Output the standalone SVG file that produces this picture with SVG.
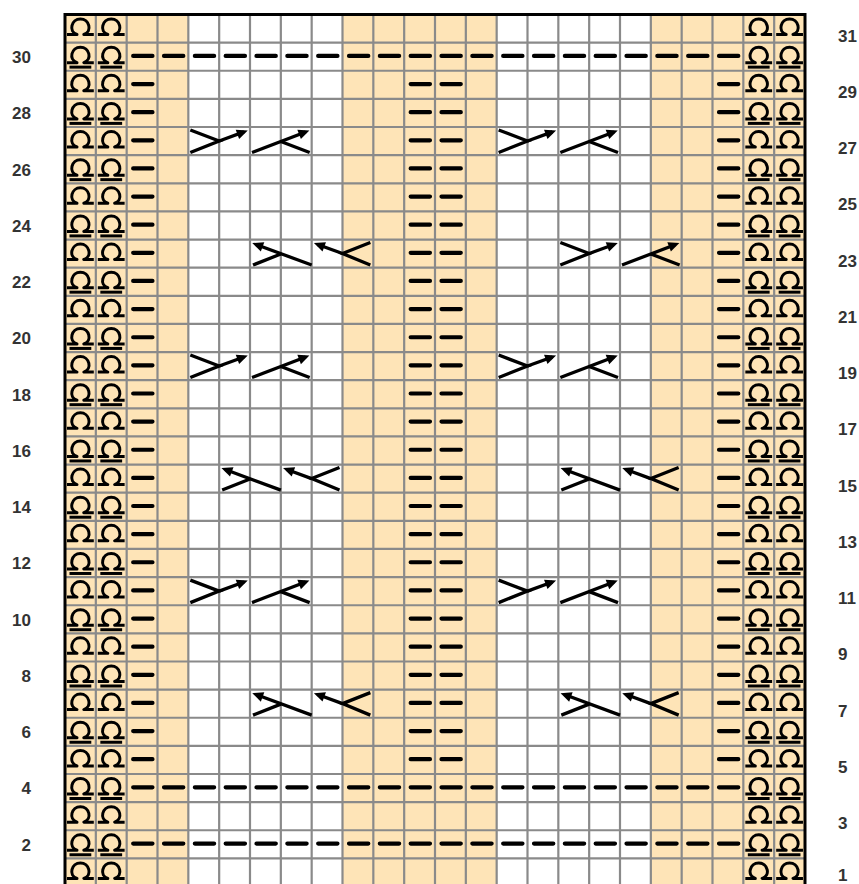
<svg xmlns="http://www.w3.org/2000/svg" xmlns:xlink="http://www.w3.org/1999/xlink" width="859" height="884" viewBox="0 0 859 884">
<style>
.tan{fill:#fee4b7}
.grid{stroke:#8a8a8a;stroke-width:2.2;fill:none}
.border{stroke:#000;stroke-width:3;fill:none}
.sym{stroke:#000;stroke-width:3;fill:none;stroke-linejoin:round}
.dash{stroke:#000;stroke-width:4.2;stroke-linecap:round;fill:none}
.cab{stroke:#000;stroke-width:3.3;fill:none;stroke-linejoin:miter}
.arr{marker-end:url(#ah)}
.lbl{font-family:"Liberation Sans",Arial,sans-serif;font-weight:bold;font-size:17px;fill:#333}
.l{text-anchor:end}
.r{text-anchor:start}
</style>
<defs>
<marker id="ah" markerUnits="userSpaceOnUse" markerWidth="16" markerHeight="14" refX="7" refY="5.5" orient="auto" overflow="visible">
<path d="M0,0.5 L11,5.5 L0,10.5 z" fill="#000"/>
</marker>
<g id="tw"><path class="sym" d="M2,20 H12 C3,17 6.5,4.5 15.4,4.5 C24.3,4.5 27.8,17 18.8,20 H28.8"/></g>
<g id="tw2"><use href="#tw"/><path class="sym" d="M4.5,24.5 H26.3"/></g>
<g id="Lo"><use href="#tw" x="65"/><use href="#tw" x="95.83"/><use href="#tw" x="743.33"/><use href="#tw" x="774.17"/></g>
<g id="Le"><use href="#tw2" x="65"/><use href="#tw2" x="95.83"/><use href="#tw2" x="743.33"/><use href="#tw2" x="774.17"/></g>
<g id="mid"><path class="dash" d="M133.17,13.3 H152.47 M410.67,13.3 H429.97 M441.5,13.3 H460.8 M719,13.3 H738.3"/></g>
<g id="full"><path class="dash" d="M133.17,13.3 H738.3" stroke-dasharray="19.3 11.533"/></g>
<g id="A">
<polyline class="cab" points="2,3 30.83,14 2,25.5"/>
<path class="cab arr" d="M30.83,14 L55.67,4.9"/>
<path class="cab arr" d="M63.67,25.5 L117.33,4.9"/>
<path class="cab" d="M92.5,14.5 L121.33,25.5"/>
</g>
<g id="B">
<path class="cab arr" d="M61.67,25.5 L6,4.9"/>
<path class="cab" d="M3,25.5 L30.83,14.5"/>
<path class="cab arr" d="M92.5,14 L67.67,4.9"/>
<polyline class="cab" points="120.33,3 92.5,14 120.33,25.5"/>
</g>
</defs>

<g id="background">
<rect x="0" y="0" width="859" height="884" fill="#fff"/>
<rect class="tan" x="65" y="14.5" width="123.33" height="870"/>
<rect class="tan" x="342.5" y="14.5" width="154.17" height="870"/>
<rect class="tan" x="650.83" y="14.5" width="154.17" height="870"/>
</g>

<g id="grid">
<path class="grid" d="M95.83 14.5V884M126.67 14.5V884M157.5 14.5V884M188.33 14.5V884M219.17 14.5V884M250 14.5V884M280.83 14.5V884M311.67 14.5V884M342.5 14.5V884M373.33 14.5V884M404.17 14.5V884M435 14.5V884M465.83 14.5V884M496.67 14.5V884M527.5 14.5V884M558.33 14.5V884M589.17 14.5V884M620 14.5V884M650.83 14.5V884M681.67 14.5V884M712.5 14.5V884M743.33 14.5V884M774.17 14.5V884"/>
<path class="grid" d="M65 42.63H805M65 70.76H805M65 98.89H805M65 127.02H805M65 155.15H805M65 183.28H805M65 211.41H805M65 239.54H805M65 267.67H805M65 295.8H805M65 323.93H805M65 352.06H805M65 380.19H805M65 408.32H805M65 436.45H805M65 464.58H805M65 492.71H805M65 520.84H805M65 548.97H805M65 577.1H805M65 605.23H805M65 633.36H805M65 661.49H805M65 689.62H805M65 717.75H805M65 745.88H805M65 774.01H805M65 802.14H805M65 830.27H805M65 858.4H805"/>
<path class="border" d="M65 884V14.5H805V884"/>
</g>

<g id="twisted-stitches">
<use href="#Lo" y="14.5"/>
<use href="#Le" y="42.63"/>
<use href="#Lo" y="70.76"/>
<use href="#Le" y="98.89"/>
<use href="#Lo" y="127.02"/>
<use href="#Le" y="155.15"/>
<use href="#Lo" y="183.28"/>
<use href="#Le" y="211.41"/>
<use href="#Lo" y="239.54"/>
<use href="#Le" y="267.67"/>
<use href="#Lo" y="295.8"/>
<use href="#Le" y="323.93"/>
<use href="#Lo" y="352.06"/>
<use href="#Le" y="380.19"/>
<use href="#Lo" y="408.32"/>
<use href="#Le" y="436.45"/>
<use href="#Lo" y="464.58"/>
<use href="#Le" y="492.71"/>
<use href="#Lo" y="520.84"/>
<use href="#Le" y="548.97"/>
<use href="#Lo" y="577.1"/>
<use href="#Le" y="605.23"/>
<use href="#Lo" y="633.36"/>
<use href="#Le" y="661.49"/>
<use href="#Lo" y="689.62"/>
<use href="#Le" y="717.75"/>
<use href="#Lo" y="745.88"/>
<use href="#Le" y="774.01"/>
<use href="#Lo" y="802.14"/>
<use href="#Le" y="830.27"/>
<use href="#Lo" y="858.4"/>
</g>

<g id="purls">
<use href="#full" y="42.63"/>
<use href="#mid" y="70.76"/>
<use href="#mid" y="98.89"/>
<use href="#mid" y="127.02"/>
<use href="#mid" y="155.15"/>
<use href="#mid" y="183.28"/>
<use href="#mid" y="211.41"/>
<use href="#mid" y="239.54"/>
<use href="#mid" y="267.67"/>
<use href="#mid" y="295.8"/>
<use href="#mid" y="323.93"/>
<use href="#mid" y="352.06"/>
<use href="#mid" y="380.19"/>
<use href="#mid" y="408.32"/>
<use href="#mid" y="436.45"/>
<use href="#mid" y="464.58"/>
<use href="#mid" y="492.71"/>
<use href="#mid" y="520.84"/>
<use href="#mid" y="548.97"/>
<use href="#mid" y="577.1"/>
<use href="#mid" y="605.23"/>
<use href="#mid" y="633.36"/>
<use href="#mid" y="661.49"/>
<use href="#mid" y="689.62"/>
<use href="#mid" y="717.75"/>
<use href="#mid" y="745.88"/>
<use href="#full" y="774.01"/>
<use href="#full" y="830.27"/>
</g>

<g id="cables">
<use href="#A" x="188.33" y="127.02"/>
<use href="#A" x="496.67" y="127.02"/>
<use href="#B" x="250" y="239.54"/>
<use href="#A" x="558.33" y="239.54"/>
<use href="#A" x="188.33" y="352.06"/>
<use href="#A" x="496.67" y="352.06"/>
<use href="#B" x="219.17" y="464.58"/>
<use href="#B" x="558.33" y="464.58"/>
<use href="#A" x="188.33" y="577.1"/>
<use href="#A" x="496.67" y="577.1"/>
<use href="#B" x="250" y="689.62"/>
<use href="#B" x="558.33" y="689.62"/>
</g>

<g id="row-numbers-left" class="lbl l">
<text x="31" y="63">30</text>
<text x="31" y="119.3">28</text>
<text x="31" y="175.5">26</text>
<text x="31" y="231.8">24</text>
<text x="31" y="288">22</text>
<text x="31" y="344.3">20</text>
<text x="31" y="400.6">18</text>
<text x="31" y="456.8">16</text>
<text x="31" y="513.1">14</text>
<text x="31" y="569.3">12</text>
<text x="31" y="625.6">10</text>
<text x="31" y="681.9">8</text>
<text x="31" y="738.1">6</text>
<text x="31" y="794.4">4</text>
<text x="31" y="850.6">2</text>
</g>
<g id="row-numbers-right" class="lbl r">
<text x="838" y="41.6">31</text>
<text x="838" y="97.8">29</text>
<text x="838" y="154.1">27</text>
<text x="838" y="210.4">25</text>
<text x="838" y="266.6">23</text>
<text x="838" y="322.9">21</text>
<text x="838" y="379.1">19</text>
<text x="838" y="435.4">17</text>
<text x="838" y="491.7">15</text>
<text x="838" y="547.9">13</text>
<text x="838" y="604.2">11</text>
<text x="838" y="660.4">9</text>
<text x="838" y="716.7">7</text>
<text x="838" y="773">5</text>
<text x="838" y="829.2">3</text>
<text x="838" y="881">1</text>
</g>
</svg>
